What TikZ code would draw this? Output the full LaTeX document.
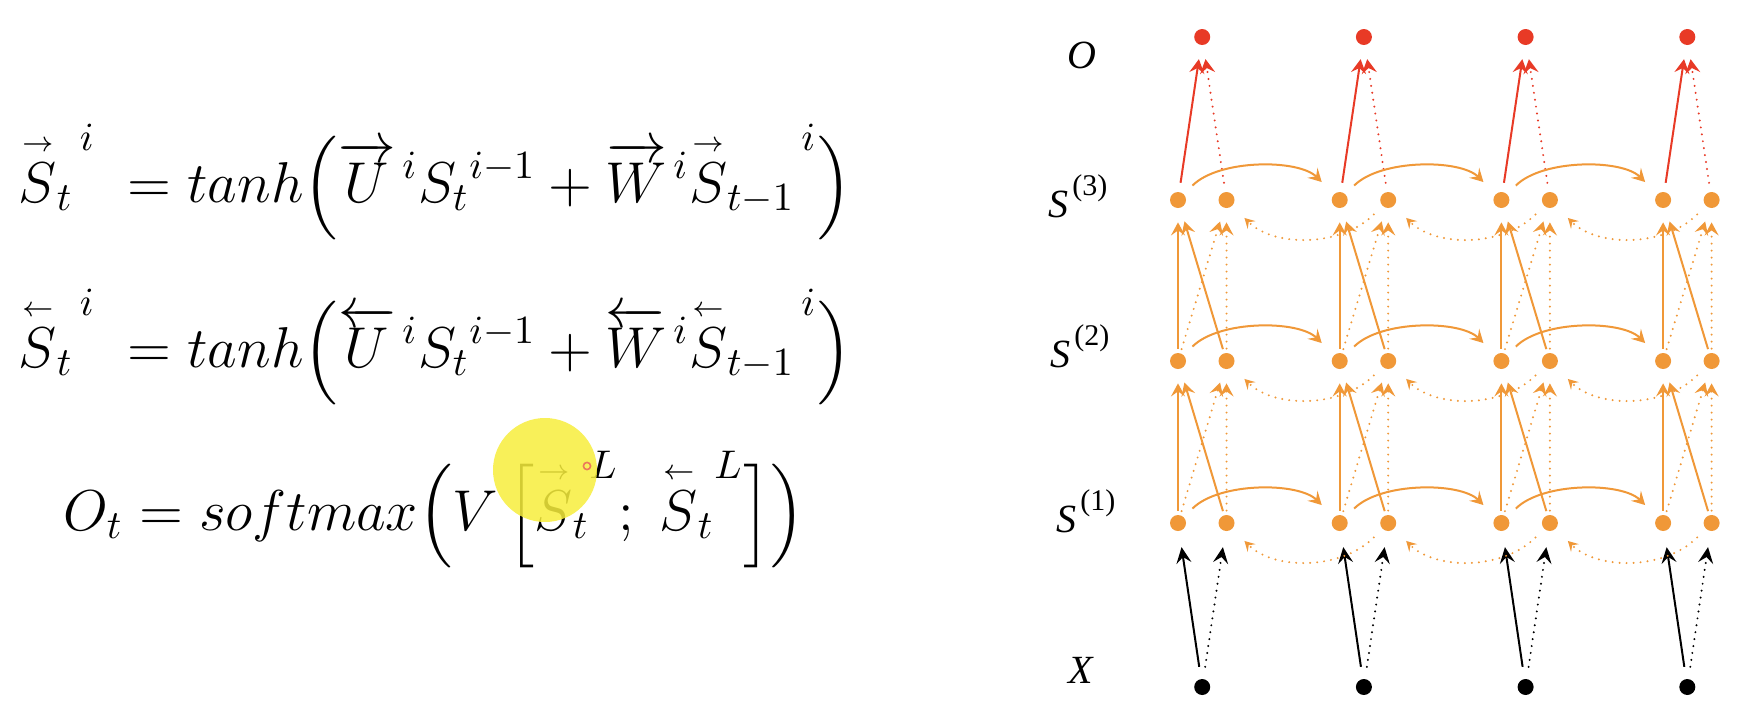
\documentclass[tikz,border=0pt]{standalone}
\usepackage{amsmath}
\usepackage{fontspec}
\newfontfamily\tms{Liberation Serif}
\usetikzlibrary{arrows.meta}
\definecolor{org}{RGB}{240,152,56}
\definecolor{rd}{RGB}{232,58,38}
\definecolor{hl}{RGB}{247,238,60}
\definecolor{cur}{RGB}{235,120,90}
\newcommand{\rS}{\overset{\scriptscriptstyle\rightarrow}{S}}
\newcommand{\lS}{\overset{\scriptscriptstyle\leftarrow}{S}}
\newcommand{\lbl}[2]{{\tms\itshape #1\kern2pt\raisebox{11pt}{\fontsize{15}{15}\selectfont\upshape #2}}}
\tikzset{
  dot/.style={circle,inner sep=0pt,minimum size=8pt,fill=#1,draw=none},
  dots/.style={line width=1.1pt,dash pattern=on 0pt off 3.5pt,line cap=round},
  orgA/.style={color=org,line width=1pt,-{Stealth[length=6.5pt,width=7pt,inset=2.5pt]},shorten <=2pt,shorten >=7pt},
  rdA/.style={color=rd,line width=1pt,-{Stealth[length=7pt,width=7.5pt,inset=2.5pt]},shorten <=4.5pt,shorten >=7pt},
  blkA/.style={color=black,line width=1pt,-{Stealth[length=8pt,width=7.5pt,inset=3pt]},shorten <=6pt,shorten >=8pt},
  fwd/.style={shorten <=6pt,shorten >=8.5pt},
  bwd/.style={shorten <=6pt,shorten >=8.5pt,-{Stealth[length=5pt,width=5.5pt,inset=2pt]}},
  eq/.style={anchor=base west,inner sep=0pt,scale=2,font=\fontsize{14.4}{17}\selectfont},
  lab/.style={anchor=base west,inner sep=0pt,font=\fontsize{20}{24}\selectfont}
}
\begin{document}
\begin{tikzpicture}[x=0.5pt,y=-0.5pt]
\fill[white] (0,0) rectangle (1762,724);
\useasboundingbox (0,0) rectangle (1762,724);
% equations
\node[eq] (eq1) at (18,202) {$\displaystyle {\rS_t}^{\,i}\; = tanh\Big(\overrightarrow{U}{}^{\,i}{S_t}^{i-1} + \overrightarrow{W}{}^{\,i}{\rS_{t-1}}^{\,i}\Big)$};
\node[eq] (eq2) at (18,367) {$\displaystyle {\lS_t}^{\,i}\; = tanh\Big(\overleftarrow{U}{}^{\,i}{S_t}^{i-1} + \overleftarrow{W}{}^{\,i}{\lS_{t-1}}^{\,i}\Big)$};
\node[eq] (eq3) at (63,530) {$\displaystyle O_t = softmax\Big(V\,\Big[{\rS_t}^{L};\;{\lS_t}^{L}\Big]\Big)$};
\fill[hl,opacity=0.85] (545,470) circle[radius=26pt];
\draw[cur,line width=0.8pt] (587,466) circle[radius=1.8pt];
% labels
\node[lab] (lO) at (1067,68) {\tms\itshape O};
\node[lab] (l3) at (1048,217) {\lbl{S}{(3)}};
\node[lab] (l2) at (1050,367) {\lbl{S}{(2)}};
\node[lab] (l1) at (1056,532) {\lbl{S}{(1)}};
\node[lab] (lX) at (1068,683) {\tms\itshape X};
% nodes
\foreach \k in {0,...,3}{
  \pgfmathsetmacro{\xl}{1178+161.7*\k}
  \pgfmathsetmacro{\xr}{\xl+48.5}
  \pgfmathsetmacro{\xm}{\xl+24.2}
  \node[dot=rd] (o\k) at (\xm,37) {};
  \node[dot=black] (x\k) at (\xm,687) {};
  \foreach \r/\yy in {1/523,2/361,3/200}{
    \node[dot=org] (f\r-\k) at (\xl,\yy) {};
    \node[dot=org] (b\r-\k) at (\xr,\yy) {};
  }
}
% vertical connections
\foreach \k in {0,...,3}{
  \draw[blkA] (x\k) -- (f1-\k);
  \draw[blkA,dots] (x\k) -- (b1-\k);
  \foreach \r in {1,2}{
    \pgfmathtruncatemacro{\s}{\r+1}
    \draw[orgA] (f\r-\k) -- (f\s-\k);
    \draw[orgA] (b\r-\k) -- (f\s-\k);
    \draw[orgA,dots] (f\r-\k) -- (b\s-\k);
    \draw[orgA,dots] (b\r-\k) -- (b\s-\k);
  }
  \draw[rdA] (f3-\k) -- (o\k);
  \draw[rdA,dots] (b3-\k) -- (o\k);
}
% recurrent connections
\foreach \k in {0,1,2}{
  \pgfmathtruncatemacro{\n}{\k+1}
  \foreach \r in {1,2,3}{
    \draw[orgA,fwd] (f\r-\k) to[out=45,in=135,looseness=0.85] (f\r-\n);
    \draw[orgA,dots,bwd] (b\r-\n) to[out=-135,in=-45] (b\r-\k);
  }
}
\end{tikzpicture}
\end{document}
